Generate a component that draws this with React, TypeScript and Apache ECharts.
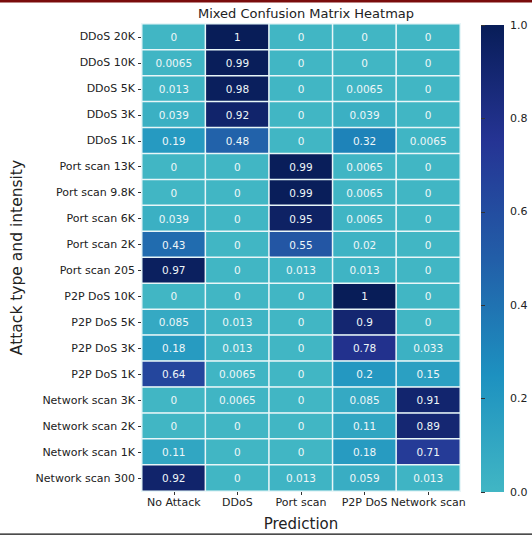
import React, { useEffect, useRef } from "react";
import * as echarts from "echarts";

const predictions = ["No Attack", "DDoS", "Port scan", "P2P DoS", "Network scan"];
const attacks = [
  "DDoS 20K", "DDoS 10K", "DDoS 5K", "DDoS 3K", "DDoS 1K",
  "Port scan 13K", "Port scan 9.8K", "Port scan 6K", "Port scan 2K", "Port scan 205",
  "P2P DoS 10K", "P2P DoS 5K", "P2P DoS 3K", "P2P DoS 1K",
  "Network scan 3K", "Network scan 2K", "Network scan 1K", "Network scan 300",
];
const matrix: number[][] = [
  [0, 1, 0, 0, 0],
  [0.0065, 0.99, 0, 0, 0],
  [0.013, 0.98, 0, 0.0065, 0],
  [0.039, 0.92, 0, 0.039, 0],
  [0.19, 0.48, 0, 0.32, 0.0065],
  [0, 0, 0.99, 0.0065, 0],
  [0, 0, 0.99, 0.0065, 0],
  [0.039, 0, 0.95, 0.0065, 0],
  [0.43, 0, 0.55, 0.02, 0],
  [0.97, 0, 0.013, 0.013, 0],
  [0, 0, 0, 1, 0],
  [0.085, 0.013, 0, 0.9, 0],
  [0.18, 0.013, 0, 0.78, 0.033],
  [0.64, 0.0065, 0, 0.2, 0.15],
  [0, 0.0065, 0, 0.085, 0.91],
  [0, 0, 0, 0.11, 0.89],
  [0.11, 0, 0, 0.18, 0.71],
  [0.92, 0, 0.013, 0.059, 0.013],
];
const colorTicks = [0, 0.2, 0.4, 0.6, 0.8, 1.0];
const palette = ["#41b6c4", "#1d91c0", "#225ea8", "#253494", "#081d58"];

const FONT = "DejaVu Sans";

export default function App() {
  const ref = useRef<HTMLDivElement>(null);
  useEffect(() => {
    if (!ref.current) return;
    const chart = echarts.init(ref.current, undefined, { renderer: "svg" });
    const data: [number, number, number][] = [];
    matrix.forEach((row, r) => row.forEach((v, c) => data.push([c, r, v])));
    const cbTop = 25;
    const cbHeight = 467;
    chart.setOption({
      animation: false,
      backgroundColor: "#ffffff",
      textStyle: { fontFamily: FONT },
      title: {
        text: "Mixed Confusion Matrix Heatmap",
        left: 301,
        top: 2,
        textAlign: "center",
        textStyle: { fontFamily: FONT, fontSize: 13, fontWeight: "normal", color: "#222" },
      },
      grid: [
        { left: 142, top: 24, width: 318, height: 468 },
        { left: 481, top: cbTop, width: 23, height: cbHeight },
      ],
      xAxis: [
        {
          type: "category",
          gridIndex: 0,
          data: predictions,
          position: "bottom",
          axisLine: { show: false },
          axisTick: { show: true, alignWithLabel: true, length: 4, lineStyle: { color: "#333" } },
          axisLabel: { interval: 0, fontFamily: FONT, fontSize: 11, color: "#222", margin: 6 },
          splitLine: { show: false },
          name: "Prediction",
          nameLocation: "middle",
          nameGap: 25,
          nameTextStyle: { fontFamily: FONT, fontSize: 15, color: "#222" },
        },
        { type: "value", gridIndex: 1, show: false, min: 0, max: 1 },
      ],
      yAxis: [
        {
          type: "category",
          gridIndex: 0,
          data: attacks,
          inverse: true,
          axisLine: { show: false },
          axisTick: { show: true, alignWithLabel: true, length: 4, lineStyle: { color: "#333" } },
          axisLabel: { interval: 0, fontFamily: FONT, fontSize: 11, color: "#222", margin: 7 },
          splitLine: { show: false },
          name: "Attack type and intensity",
          nameLocation: "middle",
          nameGap: 112,
          nameTextStyle: { fontFamily: FONT, fontSize: 15.5, color: "#222" },
        },
        {
          type: "value",
          gridIndex: 1,
          position: "right",
          min: 0,
          max: 1,
          interval: 0.2,
          axisLine: { show: false },
          axisTick: { show: true, length: 4, lineStyle: { color: "#333" } },
          axisLabel: {
            fontFamily: FONT,
            fontSize: 11,
            color: "#222",
            margin: 6,
            formatter: (v: number) => v.toFixed(1),
          },
          splitLine: { show: false },
        },
      ],
      visualMap: {
        type: "continuous",
        show: false,
        min: 0,
        max: 1,
        seriesIndex: 0,
        inRange: { color: palette },
      },
      series: [
        {
          type: "heatmap",
          xAxisIndex: 0,
          yAxisIndex: 0,
          data,
          itemStyle: { borderColor: "#e8f6f8", borderWidth: 1.5 },
          label: {
            show: true,
            fontFamily: FONT,
            fontSize: 10.5,
            color: "#eef6f8",
            formatter: (p: any) => String(p.value[2]),
          },
          emphasis: { disabled: true },
        },
        {
          type: "line",
          xAxisIndex: 1,
          yAxisIndex: 1,
          data: colorTicks.map((t) => [0.5, t]),
          symbol: "none",
          lineStyle: { opacity: 0 },
          silent: true,
        },
      ],
      graphic: [
        {
          type: "rect",
          shape: { x: 481, y: cbTop, width: 23, height: cbHeight },
          style: {
            fill: new echarts.graphic.LinearGradient(
              0, 1, 0, 0,
              palette.map((c, i) => ({ offset: i / (palette.length - 1), color: c }))
            ),
          },
          z: -1,
        },
        { type: "rect", shape: { x: 0, y: 0, width: 532, height: 2.5 }, style: { fill: "#7a0c0c" } },
        { type: "rect", shape: { x: 0, y: 533.5, width: 532, height: 1.2 }, style: { fill: "#111" } },
      ],
    });
    return () => chart.dispose();
  }, []);
  return (
    <div
      ref={ref}
      style={{ position: "fixed", left: 0, top: 0, width: 532, height: 536 }}
    />
  );
}
